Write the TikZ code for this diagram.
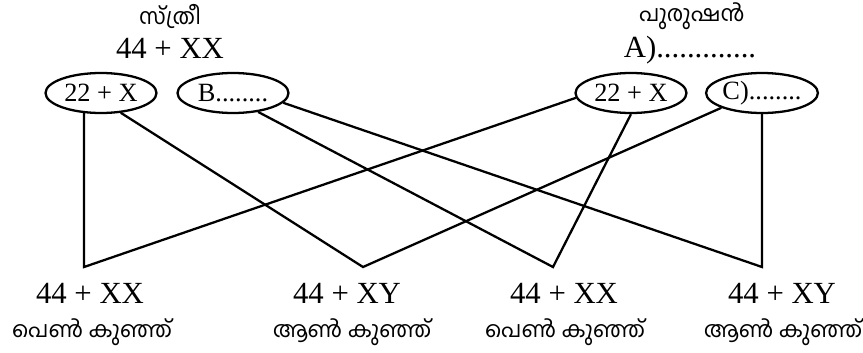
\documentclass[tikz,border=0pt]{standalone}
\usepackage{fontspec}
\setmainfont{Liberation Serif}
\newfontfamily\mlfont[Script=Malayalam]{Hind Kochi}
\usetikzlibrary{shapes.geometric}

\begin{document}
\begin{tikzpicture}[
  x=0.02cm, y=-0.02cm,
  gamete/.style={ellipse, draw, line width=1.3pt, minimum width=2.22cm, minimum height=0.8cm, inner sep=0pt, font=\fontsize{15}{15}\selectfont},
  karyo/.style={inner sep=0pt, font=\fontsize{17.5}{18}\selectfont},
  mlabel/.style={inner sep=0pt, font=\mlfont\fontsize{12.6}{13}\selectfont},
  cross/.style={line width=1.3pt}
]
  \useasboundingbox (0,0) rectangle (863,352);

  % parents
  \node[mlabel] (mother) at (170, 16) {സ്ത്രീ};
  \node[karyo]  (mk)     at (170, 48) {44 + XX};
  \node[mlabel] (father) at (692, 16) {പുരുഷൻ};
  \node[karyo]  (fk)     at (690, 50) {A).............};

  % gametes
  \node[gamete] (e1) at (101, 93) {22 + X};
  \node[gamete] (e2) at (233, 93) {B........};
  \node[gamete] (e3) at (631, 93) {22 + X};
  \node[gamete] (e4) at (762, 93) {C)........};

  % offspring
  \coordinate (v1) at (e1.230 |- 0, 267);
  \coordinate (v2) at (363, 267);
  \coordinate (v3) at (553, 267);
  \coordinate (v4) at (e4.south |- 0, 267);

  \node[karyo]  (c1) at (90, 293)  {44 + XX};
  \node[karyo]  (c2) at (347, 293) {44 + XY};
  \node[karyo]  (c3) at (564, 293) {44 + XX};
  \node[karyo]  (c4) at (782, 293) {44 + XY};
  \node[mlabel] (l1) at (92, 332)  {പെൺ കുഞ്ഞ്};
  \node[mlabel] (l2) at (352, 332) {ആൺ കുഞ്ഞ്};
  \node[mlabel] (l3) at (565, 332) {പെൺ കുഞ്ഞ്};
  \node[mlabel] (l4) at (783, 332) {ആൺ കുഞ്ഞ്};

  % crosses
  \draw[cross] (e1.230) -- (v1) -- (e3.185);
  \draw[cross] (e1.315) -- (v2) -- (e4.200);
  \draw[cross] (e2.323) -- (v3) -- (e3.south);
  \draw[cross] (e2.349) -- (v4) -- (e4.south);
\end{tikzpicture}
\end{document}
